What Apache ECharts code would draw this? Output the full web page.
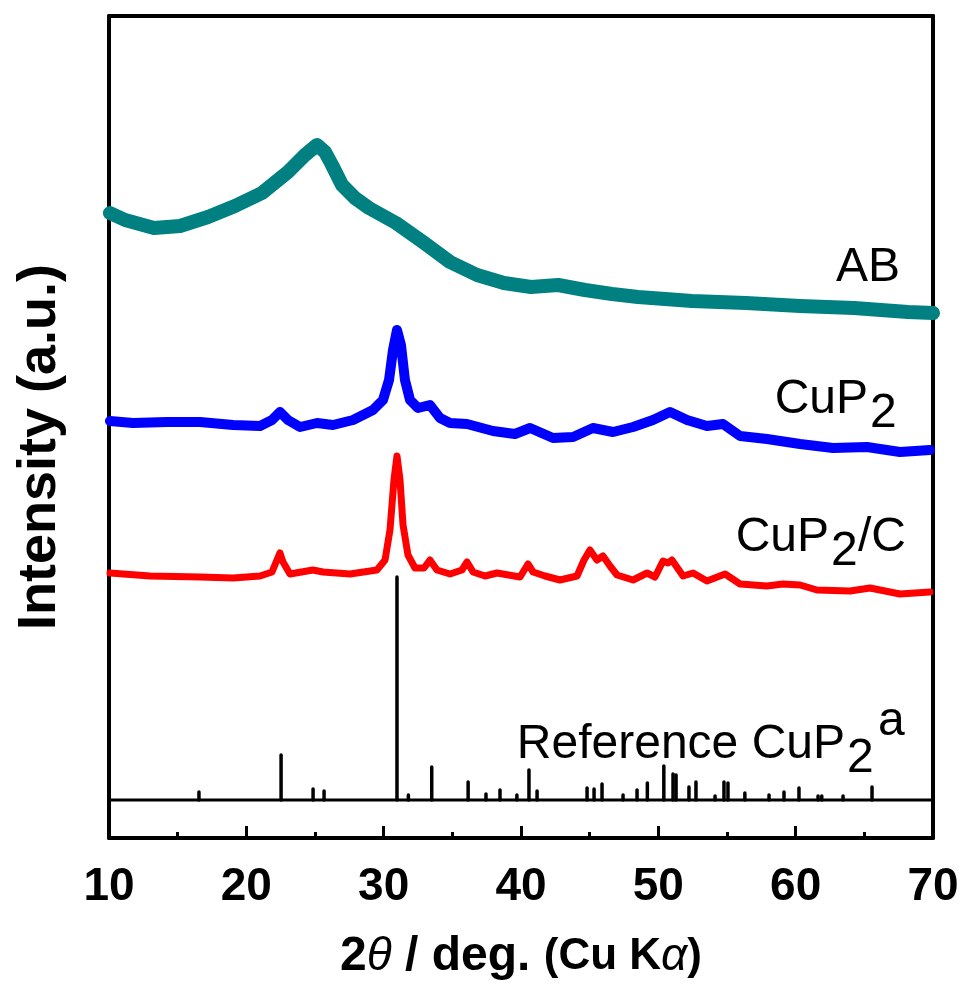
<!DOCTYPE html>
<html>
<head>
<meta charset="utf-8">
<script src="https://cdn.jsdelivr.net/npm/echarts@6/dist/echarts.min.js"></script>
<style>
  html, body { margin: 0; padding: 0; background: #fff; }
  #chart { width: 964px; height: 990px; }
</style>
</head>
<body>
<div id="chart"></div>
<script>
  // 2theta (deg) / intensity (arbitrary, offset-stacked)
  var abData = [
    [10.07, 625], [11.17, 618], [13.28, 610], [15.17, 612], [17.21, 621], [19.17, 632],
    [21.14, 645], [23.03, 666], [24.27, 683], [25.15, 693], [25.73, 686], [26.24, 673],
    [26.97, 653], [27.91, 640], [28.93, 630], [30.9, 615], [32.86, 596], [34.83, 576],
    [36.8, 563], [38.76, 555], [40.73, 551], [42.7, 553], [44.66, 548], [46.63, 544],
    [48.52, 541], [50.49, 539], [52.45, 537], [56.38, 535], [60.32, 532], [64.25, 530],
    [68.18, 526], [70, 525]
  ];

  var cup2Data = [
    [10.07, 417], [11.75, 415], [14.22, 416], [16.63, 416], [19.03, 413], [21.0, 412],
    [21.87, 418], [22.45, 426], [23.03, 418], [23.91, 411], [25.15, 415], [26.31, 413],
    [27.77, 418], [29.22, 428], [29.95, 438], [30.39, 458], [30.68, 488], [30.97, 508],
    [31.26, 493], [31.55, 458], [31.92, 438], [32.5, 430], [33.37, 433], [34.1, 420],
    [34.83, 415], [36.07, 414], [37.96, 407], [39.56, 404], [40.66, 410], [42.33, 400],
    [43.79, 401], [45.24, 410], [46.7, 406], [48.16, 411], [49.61, 418], [50.85, 426],
    [52.09, 418], [53.54, 412], [54.71, 414], [55.95, 402], [57.91, 399], [60.32, 394],
    [62.72, 390], [65.19, 391], [67.6, 386], [69.78, 388]
  ];

  var cup2cData = [
    [10.07, 265], [12.99, 262], [16.63, 261], [19.03, 260], [21.0, 262], [21.87, 266],
    [22.23, 278], [22.45, 285], [22.67, 276], [23.18, 264], [24.85, 268], [25.58, 266],
    [27.55, 264], [29.51, 268], [30.1, 278], [30.46, 308], [30.75, 358], [30.97, 382],
    [31.19, 358], [31.41, 313], [31.77, 283], [32.28, 270], [32.94, 270], [33.37, 278],
    [33.88, 268], [34.83, 264], [35.7, 268], [36.07, 276], [36.51, 266], [37.38, 262],
    [38.25, 265], [39.93, 261], [40.51, 274], [40.88, 266], [41.75, 262], [42.84, 258],
    [44.08, 262], [44.59, 278], [45.02, 288], [45.53, 278], [45.97, 282], [46.48, 272],
    [46.99, 263], [48.16, 258], [49.18, 265], [49.76, 261], [50.34, 277], [50.7, 275],
    [50.99, 278], [51.8, 262], [52.53, 265], [53.54, 257], [54.86, 264], [55.95, 254],
    [57.91, 252], [59.08, 254], [60.32, 253], [61.55, 248], [63.96, 247], [65.41, 250],
    [67.6, 244], [69.78, 246]
  ];

  // reference pattern: [2theta, stick height above its baseline]
  var refBase = 38;
  var refSticks = [
    [16.55, 8], [22.53, 45], [24.86, 11], [25.66, 9], [30.97, 223], [31.8, 5], [33.5, 33],
    [36.15, 18], [37.45, 6], [38.47, 10], [39.7, 5], [40.58, 30], [41.17, 9], [44.81, 12],
    [45.32, 11], [45.9, 16], [47.43, 5], [48.45, 10], [49.2, 17], [50.4, 34], [51.07, 26],
    [51.29, 25], [52.23, 13], [52.74, 18], [54.13, 4], [54.78, 18], [55.07, 17], [56.3, 7],
    [58.06, 5], [59.15, 8], [60.24, 12], [61.63, 4], [61.9, 4], [63.45, 4], [65.56, 13]
  ];

  var xTicks = [10, 20, 30, 40, 50, 60, 70];

  var chart = echarts.init(document.getElementById('chart'));
  var font = "'Liberation Sans', Arial, sans-serif";

  chart.setOption({
    animation: false,
    backgroundColor: '#fff',
    grid: { left: 109, right: 31, top: 16, bottom: 152 },
    xAxis: [
      {
        type: 'value',
        position: 'bottom',
        min: xTicks[0],
        max: xTicks[xTicks.length - 1],
        interval: 10,
        axisLine: { show: true, onZero: false, lineStyle: { color: '#000', width: 4 } },
        axisTick: { show: true, inside: true, length: 12, lineStyle: { color: '#000', width: 3 } },
        minorTick: { show: true, splitNumber: 2, length: 6, lineStyle: { color: '#000', width: 3 } },
        splitLine: { show: false },
        axisLabel: { color: '#000', fontSize: 46, fontWeight: 'bold', fontFamily: font, margin: 26 }
      },
      {
        type: 'value',
        position: 'top',
        min: 10,
        max: 70,
        axisLine: { show: true, onZero: false, lineStyle: { color: '#000', width: 4 } },
        axisTick: { show: false },
        axisLabel: { show: false },
        splitLine: { show: false }
      }
    ],
    yAxis: [
      {
        type: 'value',
        position: 'left',
        min: 0,
        max: 822,
        axisLine: { show: true, onZero: false, lineStyle: { color: '#000', width: 4 } },
        axisTick: { show: false },
        axisLabel: { show: false },
        splitLine: { show: false }
      },
      {
        type: 'value',
        position: 'right',
        min: 0,
        max: 822,
        axisLine: { show: true, onZero: false, lineStyle: { color: '#000', width: 4 } },
        axisTick: { show: false },
        axisLabel: { show: false },
        splitLine: { show: false }
      }
    ],
    series: [
      {
        name: 'AB',
        type: 'line',
        data: abData,
        showSymbol: false,
        lineStyle: { color: '#008080', width: 14, join: 'round', cap: 'round' }
      },
      {
        name: 'CuP2',
        type: 'line',
        data: cup2Data,
        showSymbol: false,
        lineStyle: { color: '#0000ff', width: 10, join: 'round', cap: 'round' }
      },
      {
        name: 'CuP2/C',
        type: 'line',
        data: cup2cData,
        showSymbol: false,
        lineStyle: { color: '#ff0000', width: 7, join: 'round', cap: 'round' }
      },
      {
        name: 'baseline',
        type: 'line',
        data: [[10, refBase], [70, refBase]],
        showSymbol: false,
        lineStyle: { color: '#000', width: 3 }
      },
      {
        name: 'Reference CuP2',
        type: 'custom',
        data: refSticks,
        renderItem: function (params, api) {
          var x = api.value(0);
          var h = api.value(1);
          var p0 = api.coord([x, refBase]);
          var p1 = api.coord([x, refBase + h]);
          return {
            type: 'line',
            shape: { x1: p0[0], y1: p0[1], x2: p1[0], y2: p1[1] },
            style: { stroke: '#000', lineWidth: 3.5, lineCap: 'round' }
          };
        }
      }
    ],
    graphic: [
      {
        type: 'text', x: 40, y: 447, rotation: Math.PI / 2,
        style: { text: 'Intensity (a.u.)', font: 'bold 54px ' + font, fill: '#000', align: 'center', verticalAlign: 'middle' }
      },
      {
        type: 'text', x: 521, y: 957,
        style: {
          text: '{b|2}{i|θ}{b| / deg. }{m|(Cu K}{i|α}{m|)}',
          align: 'center', verticalAlign: 'middle',
          rich: {
            b: { font: 'bold 48px ' + font, fill: '#000' },
            m: { font: 'bold 44px ' + font, fill: '#000' },
            i: { font: 'italic 46px ' + font, fill: '#000' }
          }
        }
      },
      { type: 'text', x: 900, y: 268, style: { text: 'AB', font: '48px ' + font, fill: '#000', align: 'right', verticalAlign: 'middle' } },
      { type: 'text', x: 868, y: 400, style: { text: 'CuP', font: '48px ' + font, fill: '#000', align: 'right', verticalAlign: 'middle' } },
      { type: 'text', x: 870, y: 414, style: { text: '2', font: '48px ' + font, fill: '#000', align: 'left', verticalAlign: 'middle' } },
      { type: 'text', x: 829, y: 538, style: { text: 'CuP', font: '48px ' + font, fill: '#000', align: 'right', verticalAlign: 'middle' } },
      { type: 'text', x: 831, y: 552, style: { text: '2', font: '48px ' + font, fill: '#000', align: 'left', verticalAlign: 'middle' } },
      { type: 'text', x: 858, y: 538, style: { text: '/C', font: '48px ' + font, fill: '#000', align: 'left', verticalAlign: 'middle' } },
      { type: 'text', x: 845, y: 745, style: { text: 'Reference CuP', font: '48px ' + font, fill: '#000', align: 'right', verticalAlign: 'middle' } },
      { type: 'text', x: 847, y: 759, style: { text: '2', font: '48px ' + font, fill: '#000', align: 'left', verticalAlign: 'middle' } },
      { type: 'text', x: 878, y: 722, style: { text: 'a', font: '48px ' + font, fill: '#000', align: 'left', verticalAlign: 'middle' } }
    ]
  });
</script>
</body>
</html>
